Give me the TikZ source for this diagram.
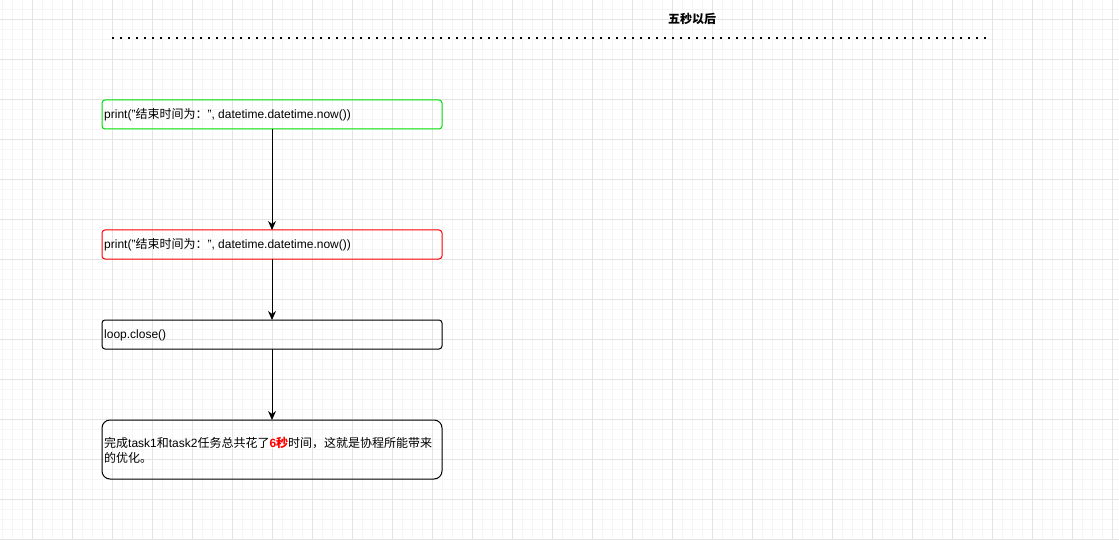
\documentclass[tikz,border=0pt]{standalone}
\usepackage{fontspec}
\setmainfont{Liberation Sans}
\newfontfamily\cjk{Noto Sans CJK SC}
\usetikzlibrary{arrows.meta}
\definecolor{minorgrid}{HTML}{F5F5F5}
\definecolor{majorgrid}{HTML}{E4E4E4}
\definecolor{boxgreen}{HTML}{00E000}
\definecolor{boxred}{HTML}{FF0000}
\tikzset{
  px/.style={x=1pt,y=-1pt},
  codebox/.style={draw, line width=1pt, rounded corners=3pt},
  bigbox/.style={draw, line width=1pt, rounded corners=8pt},
  txt/.style={anchor=west, inner sep=0pt, font=\fontsize{12}{15}\selectfont, align=left},
  flow/.style={-{Stealth[length=9pt,width=8pt]}, line width=1pt},
}
\begin{document}
\begin{tikzpicture}[px]
\useasboundingbox (0,0) rectangle (1119,540);
\fill[white] (0,0) rectangle (1119,540);
% grid
\foreach \x in {2,12,...,1119} \draw[minorgrid, line width=0.7pt] (\x,0) -- (\x,540);
\foreach \y in {9.5,19.5,...,540} \draw[minorgrid, line width=0.7pt] (0,\y) -- (1119,\y);
\foreach \x in {32,72,...,1119} \draw[majorgrid, line width=0.8pt] (\x,0) -- (\x,540);
\foreach \y in {19.5,59.5,...,540} \draw[majorgrid, line width=0.8pt] (0,\y) -- (1119,\y);
% title and dotted line
\node[inner sep=0pt, font=\fontsize{12}{14}\selectfont\cjk\bfseries] (title) at (692,19) {五秒以后};
\coordinate (dl) at (112,38.5);
\coordinate (dr) at (988,38.5);
\draw[line width=2pt, dash pattern=on 2pt off 6pt] (dl) -- (dr);
% boxes
\draw[codebox, boxgreen] (102,100) rectangle (442,129);
\coordinate (b1) at (272,129);
\node[txt] (t1) at (104,115) {print("{\cjk 结束时间为：}", datetime.datetime.now())};
\draw[codebox, boxred] (102,230) rectangle (442,259);
\coordinate (b2t) at (272,230);
\coordinate (b2) at (272,259);
\node[txt] (t2) at (104,245) {print("{\cjk 结束时间为：}", datetime.datetime.now())};
\draw[codebox, black] (102,320) rectangle (442,349);
\coordinate (b3t) at (272,320);
\coordinate (b3) at (272,349);
\node[txt] (t3) at (104,335) {loop.close()};
\draw[bigbox, black] (102,420) rectangle (442,479);
\coordinate (b4t) at (272,420);
\node[txt] (t4) at (104,450.5) {{\cjk 完成}task1{\cjk 和}task2{\cjk 任务总共花了}\textcolor{boxred}{\textbf{6}{\cjk\bfseries 秒}}{\cjk 时间，这就是协程所能带来}\\{\cjk 的优化。}};
% arrows
\draw[flow] (b1) -- (b2t);
\draw[flow] (b2) -- (b3t);
\draw[flow] (b3) -- (b4t);
\end{tikzpicture}
\end{document}
